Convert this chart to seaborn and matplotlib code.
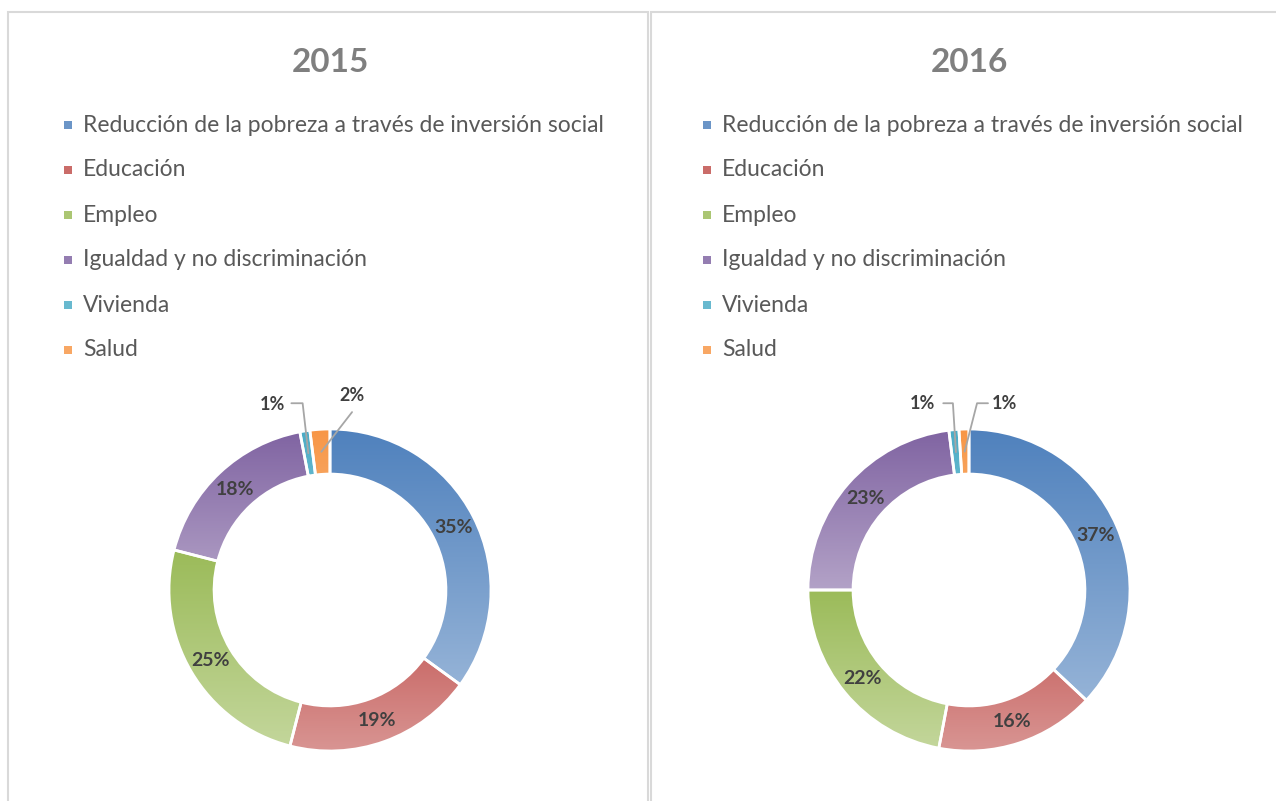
import numpy as np
import matplotlib
matplotlib.use("Agg")
import matplotlib.pyplot as plt
import seaborn as sns
from matplotlib.colors import LinearSegmentedColormap, to_rgb
from matplotlib.patches import Rectangle

# -----------------------------
# data
# -----------------------------
years = ["2015", "2016"]
categories = [
    "Reducción de la pobreza a través de inversión social",
    "Educación",
    "Empleo",
    "Igualdad y no discriminación",
    "Vivienda",
    "Salud",
]
values_2015 = [35, 19, 25, 18, 1, 2]
values_2016 = [37, 16, 22, 23, 1, 1]

base_colors = ["#4f81bd", "#c0504d", "#9bbb59", "#8064a2", "#4bacc6", "#f79646"]
light_colors = ["#95b3d7", "#d99694", "#c3d69b", "#b3a2c7", "#93cddd", "#fac090"]

sns.set_style("white")
plt.rcParams["font.family"] = ["Lato", "DejaVu Sans"]

W, H = 1276, 801
fig = plt.figure(figsize=(W / 100, H / 100), dpi=100)


def fx(px):
    return px / W


def fy(py):
    return 1 - py / H


# panel frames
for x0, x1 in [(8, 648), (651, 1300)]:
    fig.add_artist(Rectangle((fx(x0), fy(840)), (x1 - x0) / W, (840 - 12) / H,
                             fill=False, edgecolor="#d9d9d9", lw=1.5,
                             transform=fig.transFigure))

R_PX = 161
LIM = 1.3

# callout layout: (text x, text y, line points) in units of outer radius
callouts = {
    "2015": {4: ((-0.36, 1.155), [(-0.24, 1.16), (-0.17, 1.16)]),
             5: ((0.137, 1.21), [(0.137, 1.105)])},
    "2016": {4: ((-0.29, 1.16), [(-0.16, 1.16), (-0.10, 1.16)]),
             5: ((0.22, 1.16), [(0.118, 1.16), (0.05, 1.16)])},
}


def donut(cx, cy, vals, year):
    size = 2 * LIM * R_PX
    ax = fig.add_axes([fx(cx - size / 2), fy(cy + size / 2), size / W, size / H])
    wedges, _ = ax.pie(vals, startangle=90, counterclock=False, radius=1,
                       wedgeprops=dict(width=0.28, edgecolor="white", linewidth=2))
    grad = np.linspace(0, 1, 256).reshape(-1, 1)
    for w, c0, c1 in zip(wedges, base_colors, light_colors):
        verts = w.get_path().vertices
        x0, y0 = verts.min(axis=0)
        x1, y1 = verts.max(axis=0)
        cmap = LinearSegmentedColormap.from_list("g", [c1, c0])
        im = ax.imshow(grad, extent=(x0, x1, y0, y1), origin="lower", cmap=cmap,
                       aspect="auto", interpolation="bilinear", zorder=1)
        im.set_clip_path(w)
        w.set_facecolor("none")
        w.set_zorder(2)

    for i, (w, v) in enumerate(zip(wedges, vals)):
        th = np.deg2rad((w.theta1 + w.theta2) / 2)
        px, py = 0.86 * np.cos(th), 0.86 * np.sin(th)
        if i in callouts[year]:
            (tx, ty), pts = callouts[year][i]
            ax.text(tx, ty, f"{v}%", ha="center", va="center", fontsize=13,
                    fontweight="bold", color="#404040", zorder=4)
            xs = [p[0] for p in pts] + [px]
            ys = [p[1] for p in pts] + [py]
            ax.plot(xs, ys, color="#a6a6a6", lw=1.3, zorder=4)
        else:
            ax.text(px, py, f"{v}%", ha="center", va="center", fontsize=14,
                    fontweight="bold", color="#404040", zorder=4)

    ax.set_xlim(-LIM, LIM)
    ax.set_ylim(-LIM, LIM)
    ax.set_aspect("equal")
    ax.axis("off")


for year, vals, cx in [("2015", values_2015, 330), ("2016", values_2016, 969)]:
    fig.text(fx(cx), fy(62), year, ha="center", va="center", fontsize=24,
             fontweight="bold", color="#7f7f7f")
    lx = cx - 262
    for i, cat in enumerate(categories):
        y = 125 + 45 * i
        mix = 0.6 * np.array(to_rgb(base_colors[i])) + 0.4 * np.array(to_rgb(light_colors[i]))
        fig.add_artist(Rectangle((fx(lx - 4), fy(y + 4)), 8 / W, 8 / H,
                                 facecolor=mix, edgecolor="none",
                                 transform=fig.transFigure))
        fig.text(fx(lx + 15), fy(y), cat, ha="left", va="center", fontsize=16.5,
                 color="#595959")
    donut(cx, 590, vals, year)

fig.savefig("out.png", dpi=100)
